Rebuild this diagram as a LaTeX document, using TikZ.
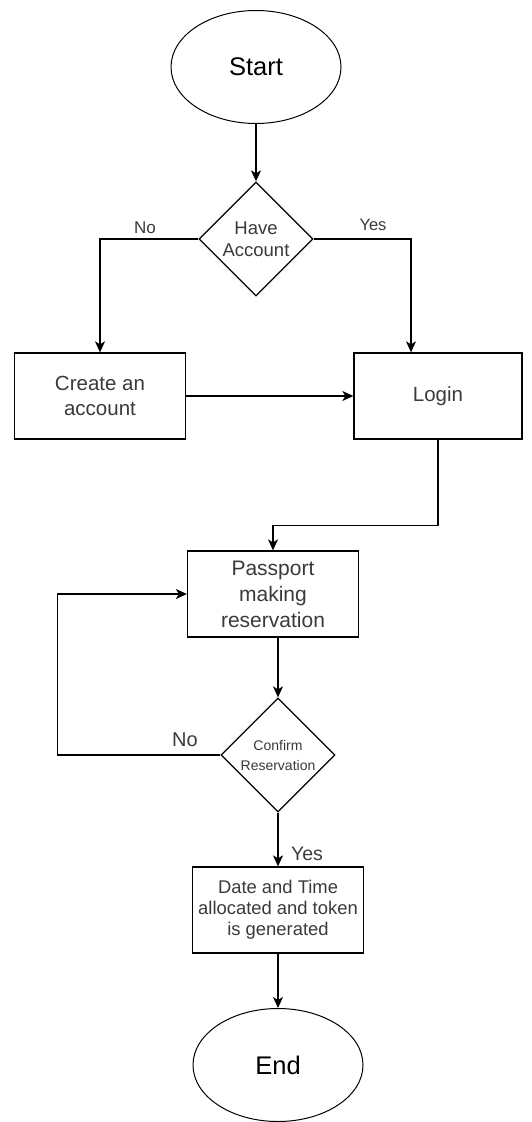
\documentclass[tikz,border=0pt]{standalone}
\usepackage{fontspec}
\setmainfont{Liberation Sans}
\usetikzlibrary{shapes.geometric,arrows.meta}

\definecolor{textgrey}{HTML}{3A3A3A}

\tikzset{
	flowline/.style = {line width = 1.3pt, draw = black},
	flowarrow/.style = {flowline, -{Stealth[length = 11pt, width = 10pt, inset = 3pt]}},
	terminal/.style = {ellipse, draw, line width = 1pt, minimum width = 170pt, minimum height = 113pt, inner sep = 0pt, font = \fontsize{25.5}{30}\selectfont},
	processbox/.style = {rectangle, draw, line width = 1.3pt, minimum width = 171pt, minimum height = 86pt, inner sep = 0pt, align = center, text = textgrey},
	decision/.style = {diamond, draw, line width = 1.3pt, minimum width = 114pt, minimum height = 114pt, inner sep = 0pt, align = center, text = textgrey},
	branchlabel/.style = {inner sep = 0pt, text = textgrey}
}

\begin{document}
\begin{tikzpicture}[x = 1pt, y = -1pt]

	% page size of the reference, in pixels
	\useasboundingbox (0, 0) rectangle (531, 1122);

	% start and first decision
	\node[terminal] (start) at (256, 67) {Start};
	\node[decision, font = \fontsize{18.5}{22}\selectfont] (have) at (256, 239) {Have\\Account};

	% account boxes
	\node[processbox, font = \fontsize{20.5}{25}\selectfont] (create) at (100, 396) {Create an\\account};
	\node[processbox, minimum width = 168pt, font = \fontsize{20.5}{25}\selectfont] (login) at (438, 396) {Login};

	% reservation part
	\node[processbox, font = \fontsize{21}{26}\selectfont] (passport) at (273, 594) {Passport\\making\\reservation};
	\node[decision, font = \fontsize{14}{20}\selectfont] (confirm) at (278, 755) {Confirm\\Reservation};
	\node[processbox, font = \fontsize{18.4}{21}\selectfont] (date) at (278, 910) {Date and Time\\allocated and token\\is generated};
	\node[terminal] (end) at (278, 1065) {End};

	% connectors
	\draw[flowarrow] (start.south) -- (have.north);
	\draw[flowarrow] (have.west) -| (create.north);
	\coordinate (yesTurn) at (411, 239);
	\draw[flowarrow] (have.east) -- (yesTurn) -- (yesTurn |- login.north);
	\draw[flowarrow] (create.east) -- (login.west);
	\draw[flowarrow] (login.south) -- ++(0, 86) -| (passport.north);
	\draw[flowarrow] (passport.south -| confirm.north) -- (confirm.north);
	\draw[flowarrow] (confirm.west) -- ++(-163, 0) |- (passport.west);
	\draw[flowarrow] (confirm.south) -- (date.north);
	\draw[flowarrow] (date.south) -- (end.north);

	% branch labels
	\node[branchlabel, font = \fontsize{17}{20}\selectfont] (haveNo) at (145, 228) {No};
	\node[branchlabel, font = \fontsize{16.5}{20}\selectfont] (haveYes) at (373, 225) {Yes};
	\node[branchlabel, font = \fontsize{20}{24}\selectfont] (confirmNo) at (185, 740) {No};
	\node[branchlabel, font = \fontsize{19.5}{24}\selectfont] (confirmYes) at (307, 854) {Yes};

\end{tikzpicture}
\end{document}
